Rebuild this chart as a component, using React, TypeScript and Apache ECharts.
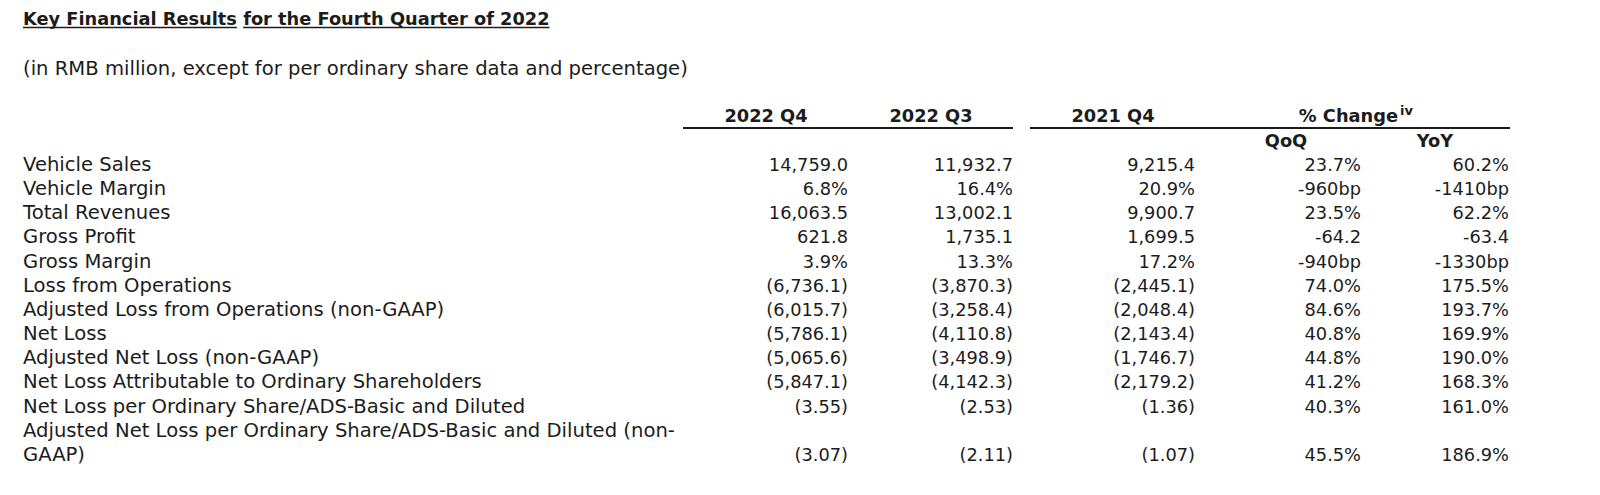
import React, { useEffect, useRef } from "react";
import * as echarts from "echarts";

// ---------- data ----------
const titleParts = ["Key Financial Results", "for the Fourth Quarter of 2022"];
const subtitle = "(in RMB million, except for per ordinary share data and percentage)";
const periodHeaders = ["2022 Q4", "2022 Q3", "2021 Q4"];
const changeHeader = "% Change";
const changeNote = "iv";
const changeSubHeaders = ["QoQ", "YoY"];

const rowLabels = [
  "Vehicle Sales",
  "Vehicle Margin",
  "Total Revenues",
  "Gross Profit",
  "Gross Margin",
  "Loss from Operations",
  "Adjusted Loss from Operations (non-GAAP)",
  "Net Loss",
  "Adjusted Net Loss (non-GAAP)",
  "Net Loss Attributable to Ordinary Shareholders",
  "Net Loss per Ordinary Share/ADS-Basic and Diluted",
  "Adjusted Net Loss per Ordinary Share/ADS-Basic and Diluted (non-\nGAAP)",
];
const q4_2022 = ["14,759.0", "6.8%", "16,063.5", "621.8", "3.9%", "(6,736.1)", "(6,015.7)", "(5,786.1)", "(5,065.6)", "(5,847.1)", "(3.55)", "(3.07)"];
const q3_2022 = ["11,932.7", "16.4%", "13,002.1", "1,735.1", "13.3%", "(3,870.3)", "(3,258.4)", "(4,110.8)", "(3,498.9)", "(4,142.3)", "(2.53)", "(2.11)"];
const q4_2021 = ["9,215.4", "20.9%", "9,900.7", "1,699.5", "17.2%", "(2,445.1)", "(2,048.4)", "(2,143.4)", "(1,746.7)", "(2,179.2)", "(1.36)", "(1.07)"];
const changeQoQ = ["23.7%", "-960bp", "23.5%", "-64.2", "-940bp", "74.0%", "84.6%", "40.8%", "44.8%", "41.2%", "40.3%", "45.5%"];
const changeYoY = ["60.2%", "-1410bp", "62.2%", "-63.4", "-1330bp", "175.5%", "193.7%", "169.9%", "190.0%", "168.3%", "161.0%", "186.9%"];

// ---------- layout ----------
const FONT = "'DejaVu Sans', Verdana, sans-serif";
const INK = "#1c1c1c";
const LEFT = 23;
const TITLE_Y = 18.5;
const SUB_Y = 68.5;
const HEAD_Y = 115;
const HEAD_LINE_Y = 128;
const SUBHEAD_Y = 140;
const ROW0 = 164.5;
const ROW_STEP = 24.15;
const VALUE_RIGHT = [848, 1013, 1195, 1361, 1509];
const HEAD_CENTER = [766, 931, 1113];
const CHANGE_RIGHT = 1398;
const SUB_CENTER = [1286, 1435];
const BOLD_SIZE = 17.8;
const LABEL_SIZE = 19.6;
const VALUE_SIZE = 17.8;

function measure(text: string, font: string): number {
  const c = document.createElement("canvas");
  const ctx = c.getContext("2d");
  if (!ctx) return text.length * 10;
  ctx.font = font;
  return ctx.measureText(text).width;
}

function txt(text: string, x: number, y: number, align: string, opts: any = {}) {
  return {
    type: "text",
    x,
    y,
    silent: true,
    style: {
      text,
      fill: INK,
      fontFamily: FONT,
      fontSize: opts.size ?? LABEL_SIZE,
      fontWeight: opts.weight ?? "normal",
      textAlign: align,
      align,
      textVerticalAlign: "middle",
      verticalAlign: "middle",
    },
  };
}

function line(x1: number, x2: number, y: number, w: number) {
  return {
    type: "line",
    silent: true,
    shape: { x1, y1: y, x2, y2: y },
    style: { stroke: INK, lineWidth: w },
  };
}

export default function App() {
  const ref = useRef<HTMLDivElement>(null);

  useEffect(() => {
    if (!ref.current) return;
    const chart = echarts.init(ref.current, undefined, { renderer: "svg" });

    const els: any[] = [];

    // title with separate underlines
    const boldFont = `bold ${BOLD_SIZE}px ${FONT}`;
    const w1 = measure(titleParts[0], boldFont);
    const ws = measure(" ", boldFont);
    const w2 = measure(titleParts[1], boldFont);
    const x2 = LEFT + w1 + ws;
    els.push(txt(titleParts[0], LEFT, TITLE_Y, "left", { weight: "bold", size: BOLD_SIZE }));
    els.push(txt(titleParts[1], x2, TITLE_Y, "left", { weight: "bold", size: BOLD_SIZE }));
    els.push(line(LEFT, LEFT + w1, 27.5, 1.5));
    els.push(line(x2, x2 + w2, 27.5, 1.5));

    els.push(txt(subtitle, LEFT, SUB_Y, "left"));

    // headers
    periodHeaders.forEach((h, i) => {
      els.push(txt(h, HEAD_CENTER[i], HEAD_Y, "center", { weight: "bold", size: BOLD_SIZE }));
    });
    els.push(txt(changeHeader, CHANGE_RIGHT, HEAD_Y, "right", { weight: "bold", size: BOLD_SIZE }));
    els.push(txt(changeNote, CHANGE_RIGHT + 2, HEAD_Y - 5, "left", { weight: "bold", size: 13 }));
    changeSubHeaders.forEach((h, i) => {
      els.push(txt(h, SUB_CENTER[i], SUBHEAD_Y, "center", { weight: "bold", size: BOLD_SIZE }));
    });
    els.push(line(683, 1013, HEAD_LINE_Y, 2));
    els.push(line(1030, 1510, HEAD_LINE_Y, 2));

    // body
    const cols = [q4_2022, q3_2022, q4_2021, changeQoQ, changeYoY];
    let lineIdx = 0;
    rowLabels.forEach((label, r) => {
      const parts = label.split("\n");
      parts.forEach((p) => {
        els.push(txt(p, LEFT, ROW0 + ROW_STEP * lineIdx, "left"));
        lineIdx += 1;
      });
      const y = ROW0 + ROW_STEP * (lineIdx - 1);
      cols.forEach((col, c) => {
        els.push(txt(col[r], VALUE_RIGHT[c], y, "right", { size: VALUE_SIZE }));
      });
    });

    chart.setOption({
      animation: false,
      backgroundColor: "#ffffff",
      graphic: { elements: els },
    });

    return () => chart.dispose();
  }, []);

  return (
    <div
      ref={ref}
      style={{ position: "fixed", left: 0, top: 0, width: 1600, height: 495, background: "#fff" }}
    />
  );
}
